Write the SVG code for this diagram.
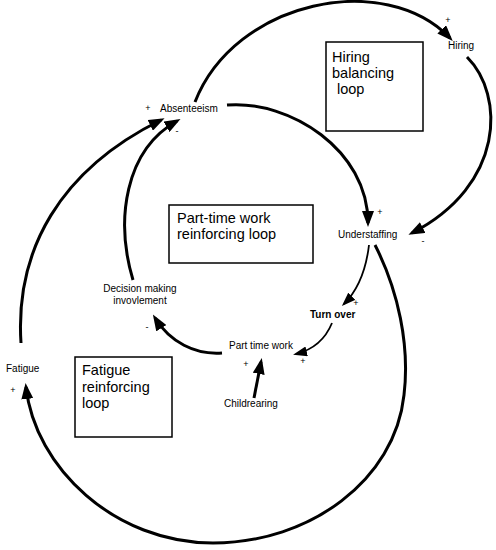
<svg xmlns="http://www.w3.org/2000/svg" width="496" height="550" viewBox="0 0 496 550">
<style>
  .lbl{font-family:"Liberation Sans",Arial,sans-serif;font-size:10px;fill:#000}
  .sign{font-family:"Liberation Sans",Arial,sans-serif;font-size:9px;fill:#000;text-anchor:middle}
  .big{font-family:"Liberation Sans",Arial,sans-serif;font-size:14.5px;fill:#000}
  .box{fill:#fff;stroke:#000;stroke-width:1.5}
  .c{fill:none;stroke:#000;stroke-width:3;marker-end:url(#ah)}
  .t{fill:none;stroke:#000;stroke-width:1.8;marker-end:url(#ahs)}
</style>
<defs>
  <marker id="ah" markerUnits="userSpaceOnUse" viewBox="0 0 16 12" markerWidth="16" markerHeight="12" refX="12" refY="6" orient="auto">
    <path d="M0,0 L16,6 L0,12 z" fill="#000"/>
  </marker>
  <marker id="ahs" markerUnits="userSpaceOnUse" viewBox="0 0 14 10" markerWidth="14" markerHeight="10" refX="11" refY="5" orient="auto">
    <path d="M0,0 L14,5 L0,10 z" fill="#000"/>
  </marker>
</defs>
<rect width="496" height="550" fill="#fff"/>
<g id="connectors">
  <path class="c" d="M195,102 C235,0 385,-30 450,38"/>
  <path class="c" d="M467,57 C505,95 505,185 412,233"/>
  <path class="c" d="M227,105 C290,100 368,150 368,223"/>
  <path class="t" d="M369,245 C366,270 358,290 344,304"/>
  <path class="t" d="M332,323 C325,340 312,350 296,354"/>
  <path class="c" d="M222,353 C195,355 170,342 155,318"/>
  <path class="c" d="M254,398 L261,362"/>
  <path class="c" d="M133,280 C115,220 125,150 177,121"/>
  <path class="c" d="M375,245 C398,290 410,345 404,395 C395,480 310,543 213,543 C115,543 35,468 26,387"/>
  <path class="c" d="M21,343 C15,250 60,170 161,120"/>
</g>
<g id="hiring-box"><rect class="box" x="326" y="42" width="97" height="89"/>
  <text class="big" x="332" y="62">Hiring</text>
  <text class="big" x="332" y="78">balancing</text>
  <text class="big" x="337" y="94">loop</text>
</g>
<g id="parttime-box"><rect class="box" x="169" y="205" width="144" height="58"/>
  <text class="big" x="177" y="223">Part-time work</text>
  <text class="big" x="177" y="239">reinforcing loop</text>
</g>
<g id="fatigue-box"><rect class="box" x="75" y="357" width="97" height="80"/>
  <text class="big" x="82" y="375">Fatigue</text>
  <text class="big" x="82" y="392">reinforcing</text>
  <text class="big" x="82" y="408">loop</text>
</g>
<g id="absenteeism"><text class="lbl" x="160" y="112">Absenteeism</text>
  <text class="sign" x="148" y="111">+</text>
  <text class="sign" x="177" y="134">-</text>
</g>
<g id="hiring"><text class="lbl" x="448" y="49">Hiring</text>
  <text class="sign" x="448" y="23">+</text>
</g>
<g id="understaffing"><text class="lbl" x="338" y="238">Understaffing</text>
  <text class="sign" x="380" y="215">+</text>
  <text class="sign" x="423" y="244">-</text>
</g>
<g id="turnover"><text class="lbl" x="310" y="318" font-weight="bold">Turn over</text>
  <text class="sign" x="356" y="306">+</text>
</g>
<g id="parttime"><text class="lbl" x="229" y="349">Part time work</text>
  <text class="sign" x="303" y="364">+</text>
  <text class="sign" x="246" y="367">+</text>
</g>
<g id="childrearing"><text class="lbl" x="224" y="407">Childrearing</text></g>
<g id="decision"><text class="lbl" x="140" y="292" text-anchor="middle">Decision making</text>
  <text class="lbl" x="140" y="304" text-anchor="middle">invovlement</text>
  <text class="sign" x="147" y="330">-</text>
</g>
<g id="fatigue"><text class="lbl" x="6" y="372">Fatigue</text>
  <text class="sign" x="13" y="393">+</text>
</g>
</svg>
